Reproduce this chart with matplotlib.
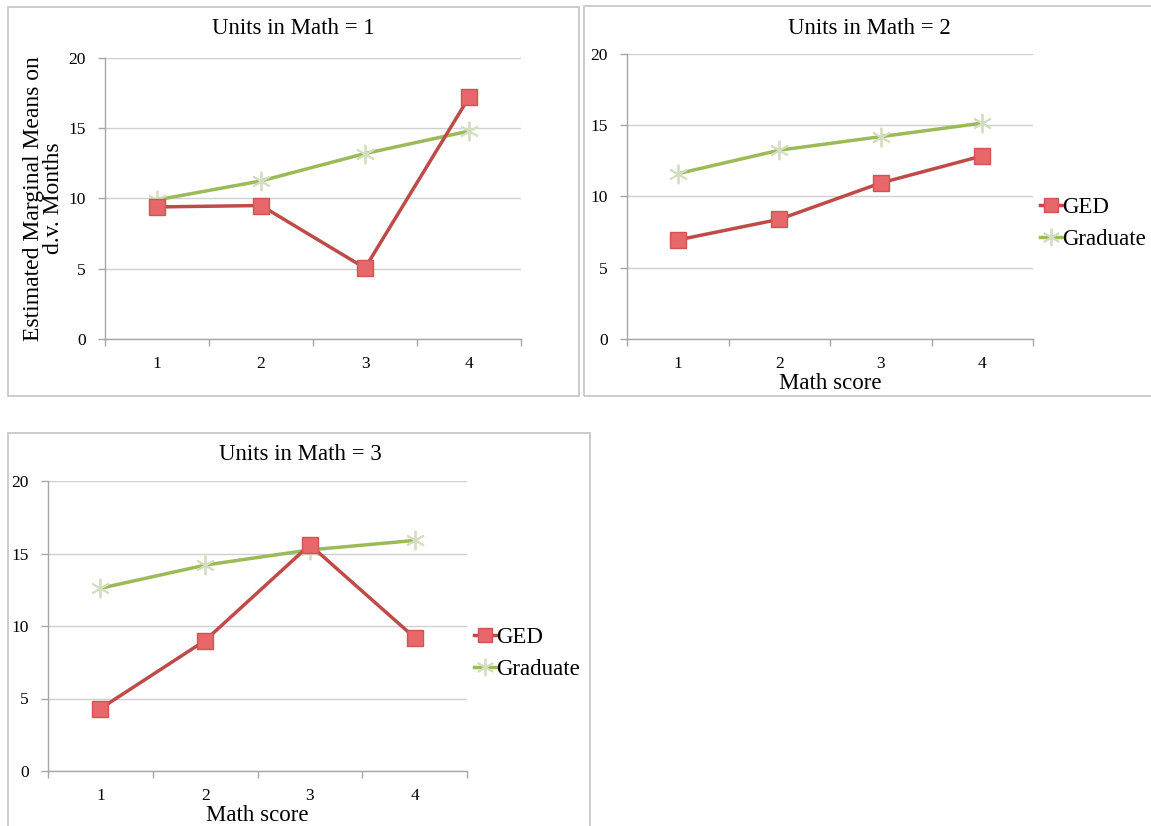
import matplotlib
matplotlib.use("Agg")
import matplotlib.pyplot as plt
import matplotlib.patches as patches

W, H = 1151, 826

scores = [1, 2, 3, 4]
panel_titles = ["Units in Math = 1", "Units in Math = 2", "Units in Math = 3"]
ged_means = [
    [9.4, 9.5, 5.05, 17.2],
    [6.95, 8.4, 10.95, 12.85],
    [4.3, 9.0, 15.6, 9.2],
]
graduate_means = [
    [9.9, 11.25, 13.2, 14.8],
    [11.6, 13.25, 14.2, 15.15],
    [12.6, 14.2, 15.25, 15.9],
]
y_ticks = [0, 5, 10, 15, 20]

plt.rcParams['font.family'] = ['Liberation Serif', 'DejaVu Serif']

GED_LINE = '#BE4B48'
GED_FACE = '#E8676A'
GRAD_LINE = '#9BBB59'
GRAD_MARK = '#D3DDC0'
SPINE = '#A6A6A6'
GRID = '#D0D0D0'
BOX = '#C8C8C8'


def px_axes(fig, left, top, right, bottom):
    return fig.add_axes([left / W, 1 - bottom / H, (right - left) / W, (bottom - top) / H])


def px_box(fig, left, top, right, bottom):
    rect = patches.Rectangle(
        (left / W, 1 - bottom / H), (right - left) / W, (bottom - top) / H,
        transform=fig.transFigure, fill=False, edgecolor=BOX, linewidth=1.3
    )
    fig.patches.append(rect)


fig = plt.figure(figsize=(W / 100, H / 100), dpi=100)
fig.patch.set_facecolor('white')

# chart frames (left, top, right, bottom) and title centres
frames = [
    (8, 7, 579, 396),
    (584, 6, 1160, 396),
    (8, 433, 590, 840),
]
title_pos = [(293, 28), (869, 28), (300, 455)]
for f in frames:
    px_box(fig, *f)

# plot areas (left, top, right, bottom) in pixels
areas = [
    (105, 58, 521, 339),
    (627, 54, 1033, 339),
    (48, 481, 467, 771),
]

axes = []
for i, (l, t, r, b) in enumerate(areas):
    ax = px_axes(fig, l, t, r, b)
    axes.append(ax)
    ax.set_xlim(0.5, 4.5)
    ax.set_ylim(0, 20)
    ax.set_yticks(y_ticks)
    ax.set_xticks(scores)
    ax.set_xticks([0.5, 1.5, 2.5, 3.5, 4.5], minor=True)
    ax.tick_params(axis='x', which='major', length=0, pad=12, labelsize=12.5)
    ax.tick_params(axis='x', which='minor', length=5, color=SPINE, width=1)
    ax.tick_params(axis='y', length=5, color=SPINE, width=1, pad=9, labelsize=12.5)
    for s in ['top', 'right']:
        ax.spines[s].set_visible(False)
    for s in ['left', 'bottom']:
        ax.spines[s].set_color(SPINE)
        ax.spines[s].set_linewidth(1)
    ax.grid(axis='y', color=GRID, linewidth=1)
    ax.set_axisbelow(True)

    ax.plot(scores, graduate_means[i], color=GRAD_LINE, linewidth=2.5,
            marker=(6, 2, 0), markersize=14, markeredgecolor=GRAD_MARK,
            markeredgewidth=1.3, label='Graduate', zorder=3)
    ax.plot(scores, ged_means[i], color=GED_LINE, linewidth=2.5,
            marker='s', markersize=11, markerfacecolor=GED_FACE,
            markeredgecolor='#D05552', markeredgewidth=1, label='GED', zorder=4)

    tx, ty = title_pos[i]
    fig.text(tx / W, 1 - ty / H, panel_titles[i], fontsize=16.5,
             ha='center', va='center')

axes[0].set_ylabel("Estimated Marginal Means on\nd.v. Months", fontsize=17,
                   linespacing=0.95)
axes[0].yaxis.set_label_coords(-0.098, 0.5)
axes[1].set_xlabel("Math score", fontsize=16.5, labelpad=1)
axes[2].set_xlabel("Math score", fontsize=16.5, labelpad=1)

# legends for the right-hand panels
for ax in axes[1:]:
    handles, labels = ax.get_legend_handles_labels()
    ax.legend(handles[::-1], labels[::-1], loc='center left',
              bbox_to_anchor=(0.995, 0.405), frameon=False, fontsize=16.5,
              handlelength=0.95, handletextpad=0.0, borderaxespad=0.0,
              labelspacing=0.45, markerscale=0.9)

fig.savefig("out.png", dpi=100, facecolor='white')
